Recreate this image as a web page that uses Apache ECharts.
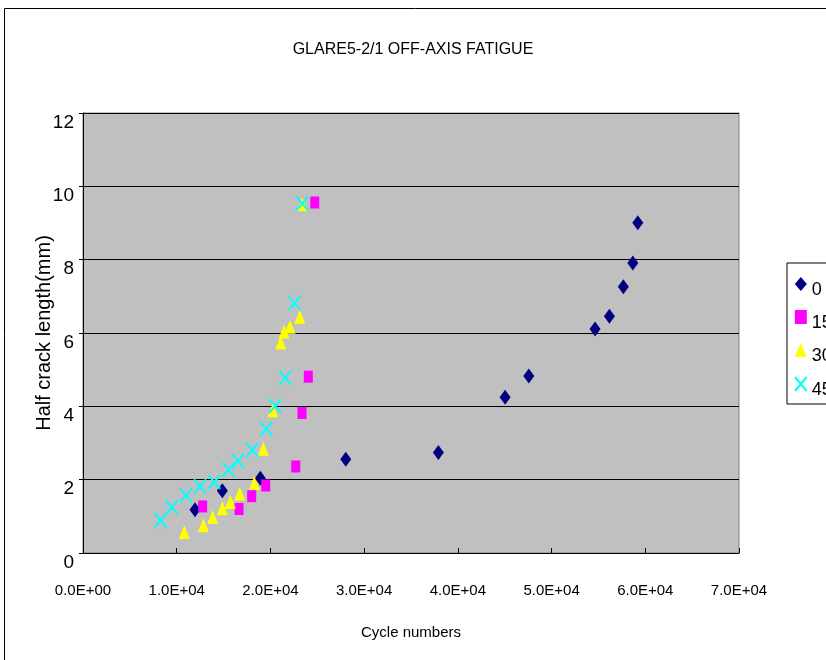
<!DOCTYPE html>
<html><head><meta charset="utf-8">
<script src="https://cdn.jsdelivr.net/npm/echarts@6/dist/echarts.min.js"></script>
<style>html,body{margin:0;padding:0;background:#fff}#c{width:826px;height:660px}</style>
</head><body><div id="c"></div>
<script>
var seriesNames = ['0', '15', '30', '45'];
var xTickLabels = ['0.0E+00','1.0E+04','2.0E+04','3.0E+04','4.0E+04','5.0E+04','6.0E+04','7.0E+04'];
var yTickLabels = ['0','2','4','6','8','10','12'];

var x0 = [11950,14870,18920,28040,37920,45040,47570,54640,56170,57660,58670,59200];
var y0 = [1.18,1.70,2.04,2.56,2.74,4.25,4.83,6.11,6.46,7.26,7.91,9.01];

var x15 = [12770,16650,18000,19500,22700,23370,24040,24730];
var y15 = [1.27,1.20,1.55,1.84,2.36,3.82,4.81,9.56];

var x30 = [10810,12840,13840,14870,15720,16720,18280,19240,20250,21100,21450,22090,23130,23400];
var y30 = [0.57,0.76,0.98,1.22,1.39,1.62,1.91,2.84,3.89,5.74,6.04,6.17,6.44,9.51];

var x45 = [8290,9470,10990,12490,14010,15550,16540,18070,19560,20520,21590,22590,23400];
var y45 = [0.89,1.25,1.57,1.82,1.94,2.27,2.51,2.81,3.38,4.01,4.78,6.81,9.53];

function pairs(xs, ys){ return xs.map(function(v,i){ return [v, ys[i]]; }); }

var FN = '"Liberation Sans Narrow", "Liberation Sans", Arial, sans-serif';
var chart = echarts.init(document.getElementById('c'), null, {renderer:'canvas'});
chart.setOption({
  animation: false,
  backgroundColor: '#ffffff',
  title: {
    text: 'GLARE5-2/1 OFF-AXIS FATIGUE',
    left: 'center', top: 37,
    textStyle: {fontFamily: FN, fontSize: 16, fontWeight: 'normal', color: '#000'}
  },
  graphic: [{
    type: 'rect', shape: {x: 4.5, y: 8.5, width: 900, height: 700},
    style: {fill: 'none', stroke: '#000', lineWidth: 1}, silent: true, z: 0
  }],
  legend: {
    orient: 'vertical', left: 787, top: 263,
    padding: [14, 40, 5, 7],
    itemGap: 11, itemWidth: 12, itemHeight: 14,
    borderColor: '#000', borderWidth: 1, backgroundColor: '#fff',
    formatter: '{a|{name}}',
    textStyle: {fontFamily: FN, fontSize: 18, color: '#000',
      rich: {a: {fontFamily: FN, fontSize: 18, color: '#000', padding: [12, 0, 0, 0]}}},
    data: seriesNames
  },
  grid: {left: 83, right: 87, top: 113, bottom: 107, show: true,
         backgroundColor: '#C0C0C0', borderColor: '#808080', borderWidth: 1},
  xAxis: {
    type: 'value', min: 0, max: 70000, interval: 10000,
    name: 'Cycle numbers', nameLocation: 'middle', nameGap: 72,
    nameTextStyle: {fontFamily: FN, fontSize: 15, color: '#000'},
    axisLine: {show: true, onZero: false, lineStyle: {color: '#000', width: 1}},
    axisTick: {show: true, inside: true, length: 5, lineStyle: {color: '#000'}},
    splitLine: {show: false},
    axisLabel: {fontFamily: FN, fontSize: 15, color: '#000', margin: 30,
      formatter: function(v){ return xTickLabels[Math.round(v/10000)]; }}
  },
  yAxis: {
    type: 'value', min: 0, max: 12, interval: 2,
    name: 'Half crack length(mm)', nameLocation: 'middle', nameGap: 29,
    nameMoveOverlap: false,
    nameTextStyle: {fontFamily: '"Liberation Sans", Arial, sans-serif', fontSize: 20, color: '#000'},
    axisLine: {show: true, lineStyle: {color: '#000', width: 1}},
    axisTick: {show: true, inside: false, length: 4, lineStyle: {color: '#000'}},
    splitLine: {show: true, lineStyle: {color: '#000', width: 1}},
    axisLabel: {fontFamily: FN, fontSize: 19, color: '#000', margin: 9, verticalAlign: 'top',
      formatter: function(v){ return yTickLabels[Math.round(v/2)]; }}
  },
  series: [
    {name: seriesNames[0], type: 'scatter', data: pairs(x0, y0),
     symbol: 'diamond', symbolSize: [11, 15], itemStyle: {color: '#000080', opacity: 1}},
    {name: seriesNames[1], type: 'scatter', data: pairs(x15, y15),
     symbol: 'rect', symbolSize: [9, 12], itemStyle: {color: '#FF00FF', opacity: 1}},
    {name: seriesNames[2], type: 'scatter', data: pairs(x30, y30),
     symbol: 'triangle', symbolSize: [11, 14], itemStyle: {color: '#FFFF00', opacity: 1}},
    {name: seriesNames[3], type: 'scatter', data: pairs(x45, y45),
     symbol: 'path://M0,0L10,12M10,0L0,12', symbolSize: [12, 14], symbolKeepAspect: false,
     itemStyle: {color: 'rgba(0,0,0,0)', borderColor: '#00FFFF', borderWidth: 2, opacity: 1}}
  ]
});
</script></body></html>
